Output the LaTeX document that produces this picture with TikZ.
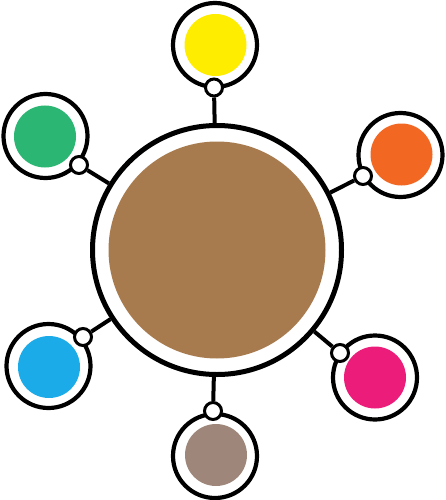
\documentclass[tikz,border=0pt]{standalone}
\definecolor{cbrown}{HTML}{A87B4F}
\definecolor{cyellow}{HTML}{FFED00}
\definecolor{cgreen}{HTML}{2BB673}
\definecolor{corange}{HTML}{F26722}
\definecolor{cblue}{HTML}{1BABE8}
\definecolor{cmagenta}{HTML}{EC1C7B}
\definecolor{ctaupe}{HTML}{9E877A}
\begin{document}
\begin{tikzpicture}[x=1pt,y=-1pt,
  ringnode/.style={circle,draw=black,line width=4.2pt,fill=white,inner sep=0pt,minimum size=#1},
  disc/.style={circle,fill=#1,draw=none,inner sep=0pt,minimum size=62pt},
  knob/.style={circle,draw=black,line width=3pt,fill=white,inner sep=0pt,minimum size=17pt},
  spoke/.style={draw=black,line width=4pt}]
\useasboundingbox (0,0) rectangle (446,500);
% hub
\node[ringnode=249pt,line width=5pt] (hub) at (217,250) {};
\node[circle,fill=cbrown,inner sep=0pt,minimum size=217pt] (hubfill) at (217,250) {};
% satellites
\node[ringnode=84pt] (ry) at (215,45) {};
\node[disc=cyellow] (dy) at (215.5,45) {};
\node[ringnode=84pt] (rg) at (45.5,136) {};
\node[disc=cgreen] (dg) at (45,136.5) {};
\node[ringnode=84pt] (ro) at (400.5,155) {};
\node[disc=corange] (do) at (401.5,154.5) {};
\node[ringnode=84pt] (rb) at (48.5,366) {};
\node[disc=cblue] (db) at (49,367) {};
\node[ringnode=84pt] (rm) at (375,377.5) {};
\node[disc=cmagenta] (dm) at (375,377.5) {};
\node[ringnode=84pt] (rt) at (215,456) {};
\node[disc=ctaupe] (dt) at (216,455) {};
% knobs
\node[knob] (ky) at (214,87.5) {};
\node[knob] (kg) at (79,165) {};
\node[knob] (ko) at (363,176) {};
\node[knob] (kb) at (83,337) {};
\node[knob] (km) at (340,353) {};
\node[knob] (kt) at (213,411) {};
% spokes
\draw[spoke] (ky) -- (hub);
\draw[spoke] (kg) -- (hub);
\draw[spoke] (ko) -- (hub);
\draw[spoke] (kb) -- (hub);
\draw[spoke] (km) -- (hub);
\draw[spoke] (kt) -- (hub);
\end{tikzpicture}
\end{document}
